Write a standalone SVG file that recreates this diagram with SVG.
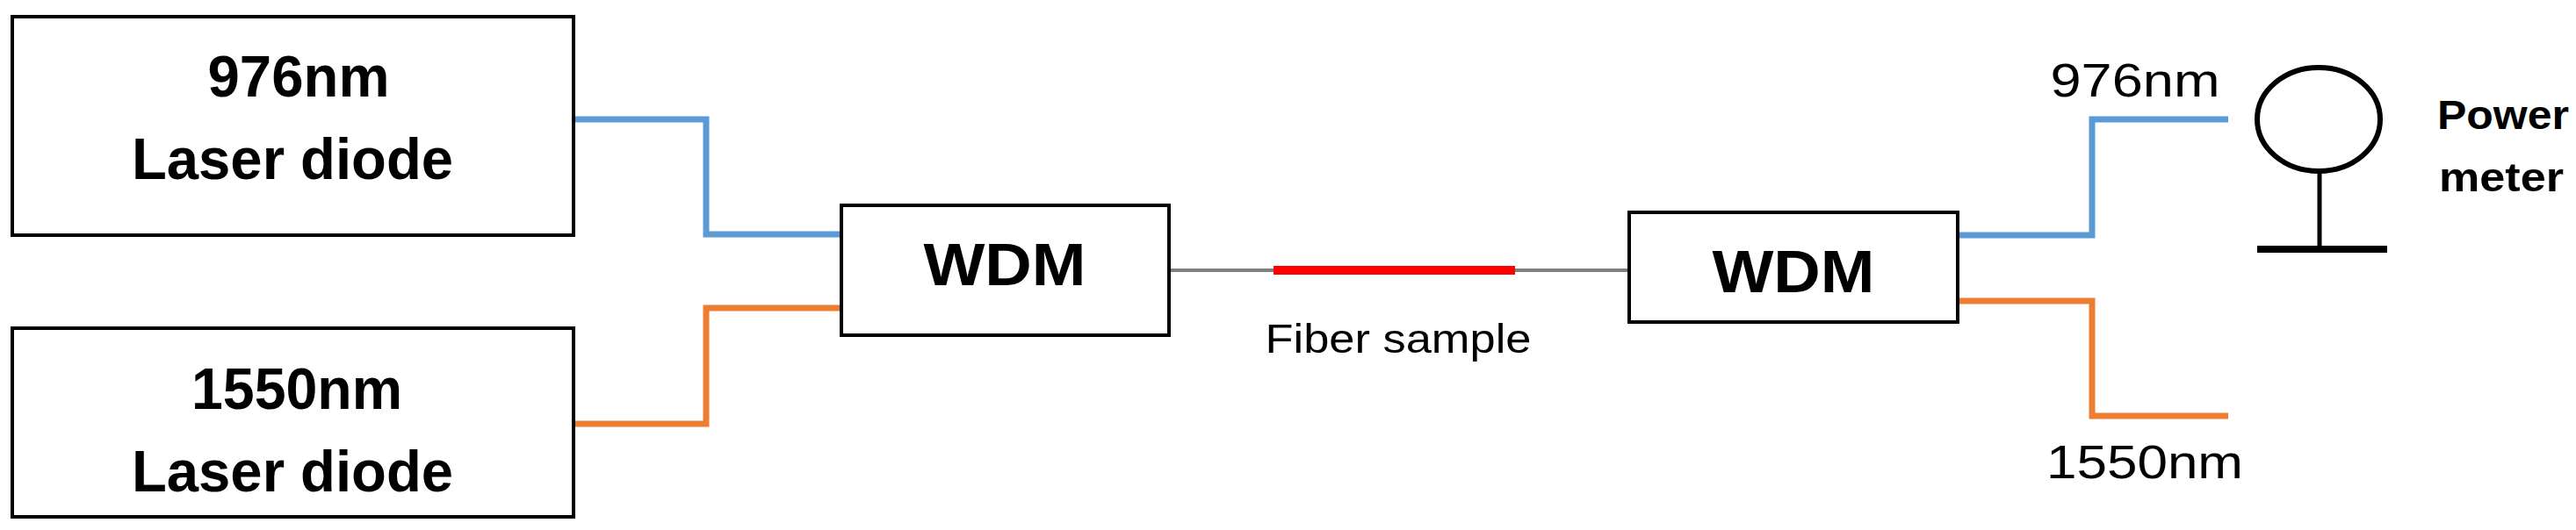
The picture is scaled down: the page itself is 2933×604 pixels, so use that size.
<svg xmlns="http://www.w3.org/2000/svg" width="2933" height="604" viewBox="0 0 2933 604">
<style>
.box{fill:#fff;stroke:#000;stroke-width:4}
.t{font-family:"Liberation Sans",Arial,sans-serif;text-anchor:middle;fill:#000}
.s{text-anchor:start}
.b{font-weight:bold}
.blue{fill:none;stroke:#5b9bd5;stroke-width:7}
.orange{fill:none;stroke:#ed7d31;stroke-width:7}
</style>
<rect width="2933" height="604" fill="#fff"/>
<g id="connectors">
<polyline class="blue" points="653,136 804,136 804,267 958,267"/>
<polyline class="orange" points="958,351 804,351 804,483 653,483"/>
<line x1="1331" y1="308" x2="1855" y2="308" stroke="#7f7f7f" stroke-width="4"/>
<line x1="1450" y1="308" x2="1725" y2="308" stroke="#ff0000" stroke-width="10"/>
<polyline class="blue" points="2229,268 2382,268 2382,136 2537,136"/>
<polyline class="orange" points="2229,343 2382,343 2382,474 2537,474"/>
</g>
<g id="ld976"><rect class="box" x="14" y="19" width="639" height="249"/>
<text class="t b" x="340" y="110" font-size="67" textLength="207" lengthAdjust="spacingAndGlyphs">976nm</text>
<text class="t b" x="333" y="204" font-size="67" textLength="366" lengthAdjust="spacingAndGlyphs">Laser diode</text></g>
<g id="ld1550"><rect class="box" x="14" y="374" width="639" height="215"/>
<text class="t b" x="338" y="466" font-size="67" textLength="240" lengthAdjust="spacingAndGlyphs">1550nm</text>
<text class="t b" x="333" y="560" font-size="67" textLength="366" lengthAdjust="spacingAndGlyphs">Laser diode</text></g>
<g id="wdm1"><rect class="box" x="958" y="234" width="373" height="148"/>
<text class="t b" x="1144" y="325" font-size="68" textLength="185" lengthAdjust="spacingAndGlyphs">WDM</text></g>
<g id="wdm2"><rect class="box" x="1855" y="242" width="374" height="125"/>
<text class="t b" x="2042" y="333" font-size="68" textLength="185" lengthAdjust="spacingAndGlyphs">WDM</text></g>
<g id="fiber"><text class="t" x="1592" y="402" font-size="46" textLength="303" lengthAdjust="spacingAndGlyphs">Fiber sample</text></g>
<g id="out976"><text class="t" x="2431" y="110" font-size="53" textLength="193" lengthAdjust="spacingAndGlyphs">976nm</text></g>
<g id="out1550"><text class="t" x="2442" y="545" font-size="53" textLength="224" lengthAdjust="spacingAndGlyphs">1550nm</text></g>
<g id="powermeter">
<ellipse cx="2640" cy="136" rx="70" ry="59" fill="none" stroke="#000" stroke-width="6"/>
<line x1="2641" y1="195" x2="2641" y2="284" stroke="#000" stroke-width="5"/>
<line x1="2570" y1="284" x2="2718" y2="284" stroke="#000" stroke-width="8"/>
<text class="t s b" x="2775" y="147" font-size="46" textLength="150" lengthAdjust="spacingAndGlyphs">Power</text>
<text class="t s b" x="2777" y="218" font-size="46" textLength="142" lengthAdjust="spacingAndGlyphs">meter</text>
</g>
</svg>
